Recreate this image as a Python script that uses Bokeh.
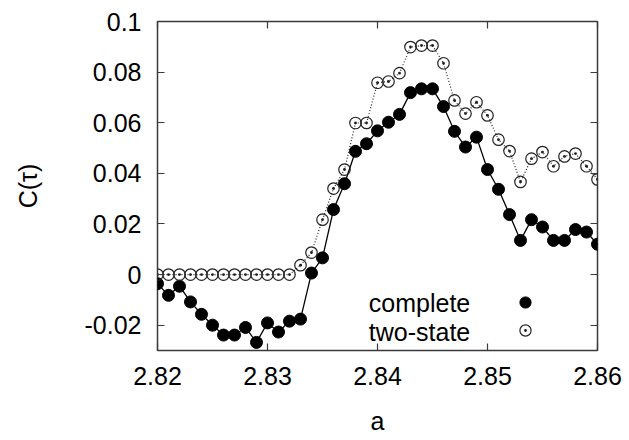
from bokeh.plotting import figure
from bokeh.models import (LinearAxis, FixedTicker, NumeralTickFormatter, Legend,
                          LegendItem, Label, Range1d, CustomJSTickFormatter)
from bokeh.embed import file_html
from bokeh.resources import INLINE

# ---- data ----
a_values = [round(2.820 + 0.001 * i, 3) for i in range(41)]

complete = [-0.0036, -0.0082, -0.0046, -0.0108, -0.0157, -0.0200, -0.0239, -0.0239,
            -0.0209, -0.0268, -0.0191, -0.0227, -0.0184, -0.0176, 0.0006, 0.0066,
            0.0257, 0.0359, 0.0487, 0.0517, 0.0568, 0.0602, 0.0633, 0.0719,
            0.0734, 0.0734, 0.0664, 0.0566, 0.0504, 0.0543, 0.0415, 0.0337,
            0.0237, 0.0135, 0.0217, 0.0188, 0.0135, 0.0135, 0.0178, 0.0168, 0.0120]

two_state = [0.0, 0.0, 0.0, 0.0, 0.0, 0.0, 0.0, 0.0, 0.0, 0.0, 0.0, 0.0, 0.0,
             0.0037, 0.0087, 0.0217, 0.0340, 0.0415, 0.0599, 0.0599, 0.0758, 0.0763,
             0.0796, 0.0899, 0.0905, 0.0905, 0.0835, 0.0688, 0.0636, 0.0681,
             0.0629, 0.0533, 0.0488, 0.0366, 0.0458, 0.0484, 0.0428, 0.0467,
             0.0478, 0.0428, 0.0376]

x_ticks = [2.82, 2.83, 2.84, 2.85, 2.86]
y_ticks = [-0.02, 0.0, 0.02, 0.04, 0.06, 0.08, 0.1]
series_names = ["complete", "two-state"]

FONT = "Liberation Sans"
FRAME = "#3a3a3a"

p = figure(frame_width=440, frame_height=329, output_backend="svg",
           toolbar_location=None, x_range=Range1d(2.82, 2.86),
           y_range=Range1d(-0.03, 0.1))
p.min_border_left = 157
p.min_border_right = 32
p.min_border_top = 21
p.min_border_bottom = 90
p.background_fill_color = "white"
p.border_fill_color = "white"
p.outline_line_color = FRAME
p.outline_line_width = 1.5
p.grid.visible = False

p.xaxis.ticker = FixedTicker(ticks=x_ticks)
p.yaxis.ticker = FixedTicker(ticks=y_ticks)
p.xaxis.formatter = NumeralTickFormatter(format="0.00")
p.yaxis.formatter = NumeralTickFormatter(format="0.[00]")
for ax in (p.xaxis[0], p.yaxis[0]):
    ax.axis_line_color = None
    ax.major_tick_in = 7
    ax.major_tick_out = 0
    ax.major_tick_line_color = FRAME
    ax.major_tick_line_width = 1.2
    ax.minor_tick_line_color = None
    ax.major_label_text_font = FONT
    ax.major_label_text_font_size = "25px"
    ax.major_label_text_color = "black"
    ax.axis_label_text_font = FONT
    ax.axis_label_text_font_size = "25px"
    ax.axis_label_text_font_style = "normal"
    ax.axis_label_text_color = "black"
p.xaxis.axis_label = "a"
p.yaxis.axis_label = "C(τ)"
p.xaxis.major_label_standoff = 16
p.xaxis.axis_label_standoff = 19
p.yaxis.major_label_standoff = 16
p.yaxis.axis_label_standoff = 40

# mirror ticks (no labels)
blank = CustomJSTickFormatter(code="return ''")
for loc, ticks in (("above", x_ticks), ("right", y_ticks)):
    ax = LinearAxis(ticker=FixedTicker(ticks=ticks), formatter=blank,
                    axis_line_color=None, major_tick_in=7, major_tick_out=0,
                    major_tick_line_color=FRAME, major_tick_line_width=1.2,
                    minor_tick_line_color=None, major_label_standoff=0)
    p.add_layout(ax, loc)

# series
p.line(a_values, complete, line_color="black", line_width=1.3)
r_c = p.scatter(a_values, complete, size=12, marker="circle",
                fill_color="black", line_color="black")
p.line(a_values, two_state, line_color="#222222", line_width=1.2, line_dash="1 2")
r_t = p.scatter(a_values, two_state, size=11.5, marker="circle_dot",
                fill_color=None, line_color="#222222", line_width=1.2)

# legend markers (right side); the names are drawn as labels to their left
legend = Legend(items=[LegendItem(label=" ", renderers=[r_c]),
                       LegendItem(label=" ", renderers=[r_t])],
                location=(354, 6), padding=0, margin=0, spacing=0,
                glyph_width=28, glyph_height=28, label_height=28, label_width=1,
                label_standoff=0, label_text_font_size="12px",
                border_line_color=None, background_fill_color=None)
p.add_layout(legend, "center")

ys = [-0.0113, -0.0228]
for name, yy in zip(series_names, ys):
    p.add_layout(Label(x=2.84843, y=yy, text=name, text_align="right",
                       text_baseline="middle", text_font=FONT,
                       text_font_size="25px", text_color="black"))

open("out.html", "w").write(file_html(p, INLINE))
